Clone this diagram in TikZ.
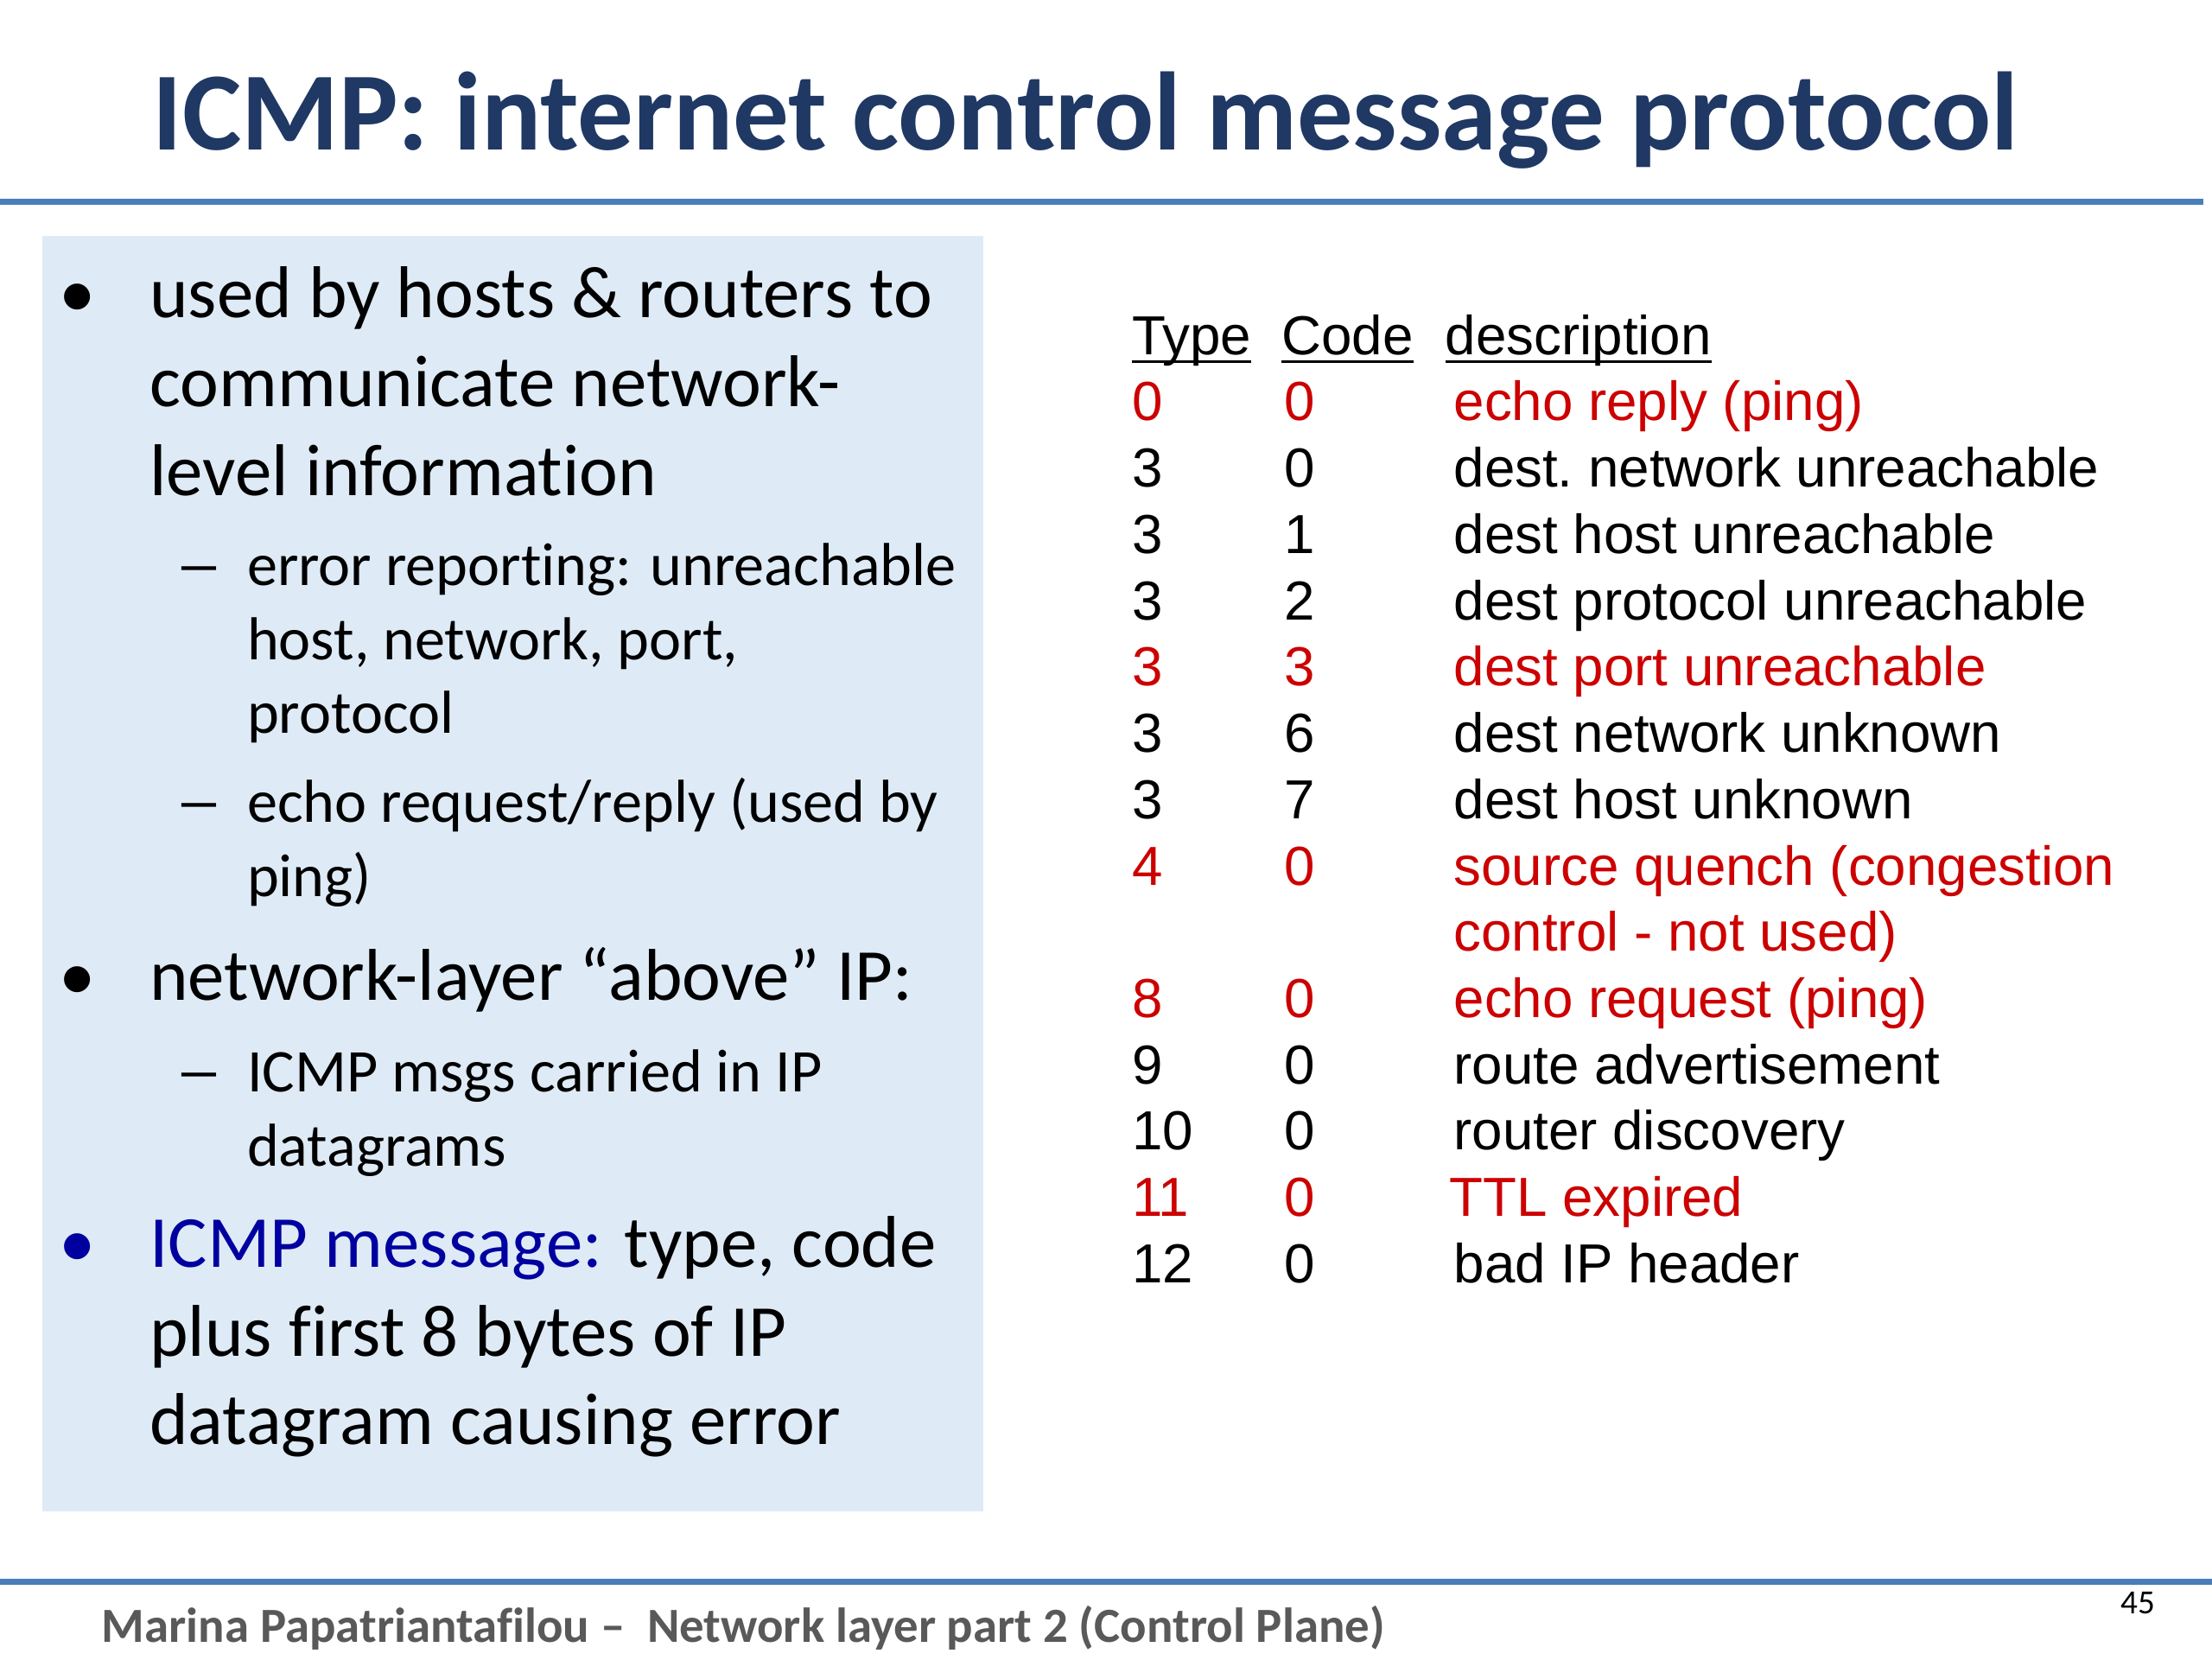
\documentclass[tikz,border=0pt]{standalone}
\usepackage{fontspec}
\usepackage{graphicx}
\setmainfont{Carlito}[Ligatures=NoCommon]
\newfontfamily\tblfont{Liberation Sans}
\usetikzlibrary{matrix}

\definecolor{titleblue}{RGB}{31,56,100}
\definecolor{ruleblue}{RGB}{74,126,187}
\definecolor{boxblue}{RGB}{222,235,246}
\definecolor{msgblue}{RGB}{0,0,160}
\definecolor{hired}{RGB}{204,0,0}
\definecolor{footgray}{RGB}{89,89,89}

\newcommand{\colhead}[1]{\setbox0\hbox{#1}\rlap{\rule[-6pt]{\wd0}{2pt}}\box0}

\tikzset{
  main/.style={anchor=base west, inner sep=0, align=left, font=\fontsize{52}{63}\selectfont},
  sub/.style={anchor=base west, inner sep=0, align=left, font=\fontsize{43}{52.5}\selectfont},
  dot/.style={anchor=base, inner sep=0, font=\fontsize{52}{63}\selectfont},
  subdash/.style={anchor=base west, inner sep=0, font=\fontsize{43}{52.5}\selectfont},
  hot/.style={text=hired}
}

\begin{document}
\begin{tikzpicture}[x=1pt, y=-1pt]
    \useasboundingbox (0,0) rectangle (1568,1176);
    \node[anchor=base west, inner sep=0, text=titleblue, font=\fontsize{79}{90}\selectfont\bfseries] (title) at (108,106) {ICMP: internet control message protocol};
    \draw[ruleblue, line width=4] (0,143) -- (1562,143);
    \draw[ruleblue, line width=4] (0,1121) -- (1568,1121);
    \fill[boxblue] (30,167) rectangle (697,1071);

    % left column (multi-line nodes sit on their last baseline)
    \node[dot] (b1) at (55,225) {•};
    \node[main] (item1) at (106,351) {used by hosts \& routers to\\communicate network-\\level information};
    \node[subdash] (d1) at (124,415) {\scalebox{1.6}[1]{–}};
    \node[sub] (sub1) at (175,520) {error reporting: unreachable\\host, network, port,\\protocol};
    \node[subdash] (d2) at (124,583) {\scalebox{1.6}[1]{–}};
    \node[sub] (sub2) at (175,635.5) {echo request/reply (used by\\ping)};
    \node[dot] (b2) at (55,709) {•};
    \node[main] (item2) at (106,709) {network-layer “above” IP:};
    \node[subdash] (d3) at (124,774) {\scalebox{1.6}[1]{–}};
    \node[sub] (sub3) at (175,826.5) {ICMP msgs carried in IP\\datagrams};
    \node[dot, text=msgblue] (b3) at (55,898) {•};
    \node[main] (item3) at (106,1024) {{\color{msgblue}ICMP message:} type, code\\plus first 8 bytes of IP\\datagram causing error};

    % type / code table
    \matrix[matrix of nodes, anchor=north west, inner sep=0, row sep=0, column sep=0,
        nodes={anchor=base west, inner sep=0, text height=33pt, text depth=14pt, font=\tblfont\fontsize{39}{47}\selectfont\frenchspacing},
        column 1/.style={nodes={text width=108pt}}, column 2/.style={nodes={text width=120pt}},
        row 2/.style={nodes=hot}, row 6/.style={nodes=hot}, row 9/.style={nodes=hot},
        row 10/.style={nodes=hot}, row 11/.style={nodes=hot}, row 14/.style={nodes=hot}] (tbl) at (802,218) {
        \colhead{Type} & \kern-2pt\colhead{Code} & \kern-6pt\colhead{description} \\
        0 & 0 & echo reply (ping) \\
        3 & 0 & dest. network unreachable \\
        3 & 1 & dest host unreachable \\
        3 & 2 & dest protocol unreachable \\
        3 & 3 & dest port unreachable \\
        3 & 6 & dest network unknown \\
        3 & 7 & dest host unknown \\
        4 & 0 & source quench (congestion \\
          &   & control - not used) \\
        8 & 0 & echo request (ping) \\
        9 & 0 & route advertisement \\
        10 & 0 & router discovery \\
        11 & 0 & \kern-3pt TTL expired \\
        12 & 0 & bad IP header \\
    };

    \node[anchor=base west, inner sep=0, text=footgray, font=\fontsize{34.8}{40}\selectfont\bfseries] (foot) at (72,1164) {Marina Papatriantafilou –\ \ Network layer part 2 (Control Plane)};
    \node[anchor=base east, inner sep=0, font=\fontsize{24}{28}\selectfont] (pageno) at (1528,1144) {45};
\end{tikzpicture}
\end{document}
